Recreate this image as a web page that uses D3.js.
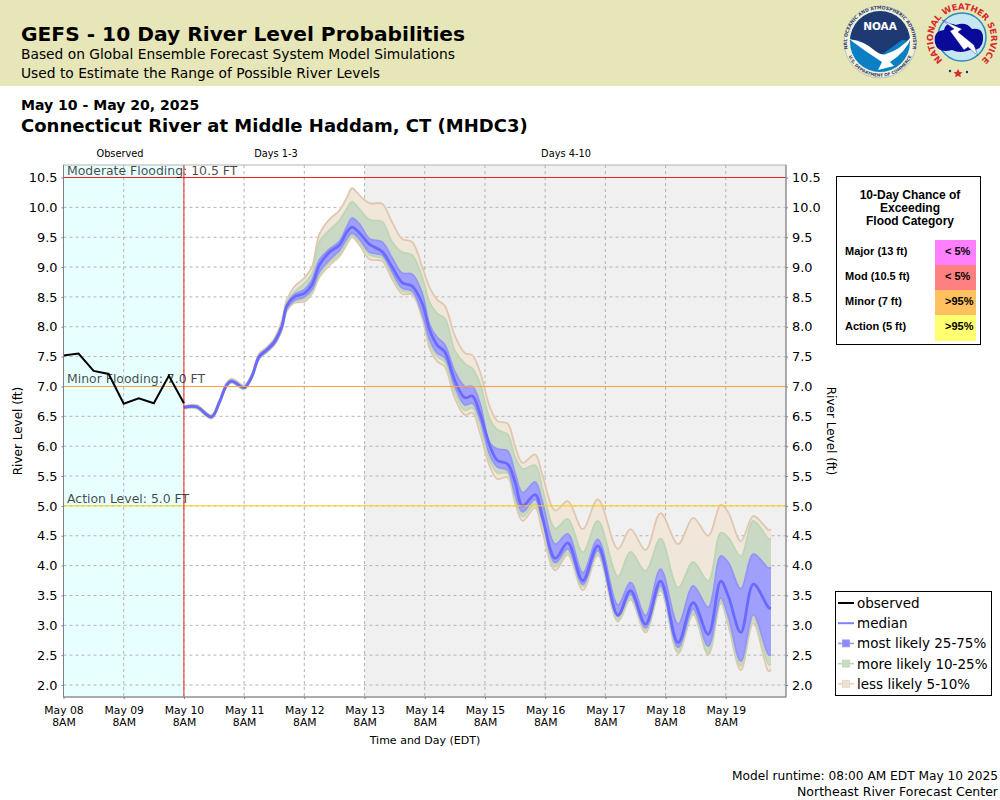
<!DOCTYPE html>
<html><head><meta charset="utf-8">
<script src="https://cdn.jsdelivr.net/npm/d3@7/dist/d3.min.js"></script>
<style>html,body{margin:0;padding:0;background:#fff}svg{display:block}text{font-family:"DejaVu Sans",sans-serif}</style>
</head><body><svg id="c" width="1000" height="800"></svg>
<script>
const dayLabels=["May 08","May 09","May 10","May 11","May 12","May 13","May 14","May 15","May 16","May 17","May 18","May 19"];
const yTicks=[2,2.5,3,3.5,4,4.5,5,5.5,6,6.5,7,7.5,8,8.5,9,9.5,10,10.5];
// hours relative to May 10 8AM
const obsHours=[-48,-42,-36,-30,-24,-18,-12,-6,0];
const observed=[7.52,7.55,7.26,7.21,6.71,6.80,6.72,7.18,6.72];
const hours=[0,5,11,14,17,19,21,24,27,30,33,36,39,41,44,48,51,54,58,62,65,67,70,74,79,83,87,91,95,98,101,104,108,112,115,118,122,125,129,132,135,140,143,148,153,159,165,173,178,184,190,197,203,209,214,217,222,227,233,234];
const p50=[6.65,6.66,6.49,6.72,7.02,7.09,7.05,6.98,7.16,7.50,7.61,7.74,8.00,8.35,8.50,8.56,8.70,9.03,9.25,9.37,9.59,9.67,9.57,9.38,9.26,9.00,8.74,8.68,8.39,7.94,7.69,7.58,7.10,6.81,6.84,6.55,6.00,5.76,5.70,5.40,5.00,5.19,4.80,4.12,4.38,3.75,4.33,3.17,3.58,3.02,3.74,2.71,3.38,2.85,3.74,3.49,2.88,3.69,3.30,3.28];
const p75=[6.66,6.67,6.50,6.73,7.03,7.10,7.06,6.99,7.17,7.52,7.63,7.77,8.03,8.37,8.54,8.62,8.78,9.12,9.30,9.43,9.68,9.82,9.72,9.47,9.42,9.15,8.90,8.88,8.56,8.03,7.82,7.70,7.25,7.00,7.00,6.72,6.05,5.95,5.92,5.55,5.22,5.40,5.05,4.36,4.53,3.88,4.44,3.34,3.72,3.16,3.94,3.02,3.66,3.30,4.16,4.05,3.61,4.19,3.96,3.97];
const p25=[6.64,6.65,6.48,6.71,7.01,7.08,7.04,6.97,7.15,7.48,7.59,7.71,7.97,8.30,8.44,8.50,8.62,8.92,9.12,9.28,9.48,9.57,9.47,9.25,9.20,8.92,8.65,8.60,8.22,7.78,7.56,7.48,7.00,6.69,6.72,6.45,5.85,5.65,5.60,5.19,4.90,5.11,4.75,4.05,4.28,3.69,4.25,3.15,3.52,2.96,3.66,2.63,3.27,2.65,3.46,3.15,2.40,3.18,2.51,2.50];
const p90=[6.66,6.68,6.51,6.74,7.04,7.11,7.07,7.00,7.18,7.53,7.64,7.77,8.04,8.40,8.58,8.73,8.88,9.42,9.62,9.78,9.98,10.09,9.97,9.79,9.76,9.42,9.25,9.20,8.83,8.40,8.22,8.14,7.60,7.38,7.30,7.05,6.45,6.27,6.20,5.82,5.62,5.68,5.28,4.62,4.78,4.22,4.75,3.82,4.23,3.91,4.45,3.63,4.06,3.74,4.55,4.47,4.15,4.75,4.45,4.45];
const p10=[6.64,6.64,6.47,6.70,7.00,7.07,7.03,6.96,7.14,7.47,7.58,7.70,7.95,8.28,8.42,8.46,8.58,8.88,9.08,9.22,9.42,9.53,9.42,9.20,9.15,8.86,8.60,8.57,8.20,7.70,7.50,7.41,6.90,6.60,6.64,6.35,5.75,5.55,5.55,5.12,4.82,5.03,4.68,3.98,4.22,3.65,4.20,3.09,3.46,2.92,3.60,2.55,3.21,2.53,3.41,3.05,2.32,3.10,2.35,2.34];
const p95=[6.67,6.69,6.52,6.76,7.06,7.13,7.09,7.02,7.20,7.55,7.66,7.80,8.10,8.45,8.67,8.82,9.00,9.55,9.80,9.95,10.17,10.32,10.20,10.07,10.06,9.75,9.47,9.42,9.00,8.65,8.45,8.35,7.85,7.56,7.52,7.25,6.65,6.42,6.38,6.00,5.72,5.86,5.50,4.92,5.08,4.61,5.11,4.28,4.61,4.26,4.88,4.36,4.80,4.50,5.02,4.89,4.41,4.83,4.60,4.61];
const p05=[6.63,6.63,6.46,6.69,6.99,7.06,7.02,6.95,7.13,7.46,7.57,7.69,7.94,8.26,8.40,8.42,8.55,8.83,9.03,9.18,9.38,9.50,9.37,9.13,9.10,8.80,8.55,8.54,8.14,7.63,7.42,7.33,6.80,6.52,6.56,6.22,5.65,5.45,5.48,5.05,4.75,4.97,4.55,3.92,4.18,3.59,4.17,3.06,3.43,2.88,3.58,2.53,3.18,2.50,3.37,3.00,2.25,3.04,2.23,2.26];
const floodCats=["Major (13 ft)","Mod (10.5 ft)","Minor (7 ft)","Action (5 ft)"];
const floodChance=["< 5%","< 5%",">95%",">95%"];
const floodColors=["#ff80ff","#ff8080","#ffc060","#ffff70"];
const stages=[{v:10.5,t:"Moderate Flooding: 10.5 FT",c:"#ee2020"},{v:7,t:"Minor Flooding: 7.0 FT",c:"#ffa040"},{v:5,t:"Action Level: 5.0 FT",c:"#ffd000"}];
const legendItems=["observed","median","most likely 25-75%","more likely 10-25%","less likely 5-10%"];

const svg=d3.select("#c");
const pL=63.5,pR=786,pT=165,pB=697;
const x=d3.scaleLinear().domain([-48,240]).range([pL,pR]);
const y=d3.scaleLinear().domain([2,10.5]).range([685,177.5]);
const T=(s,xx,yy,size,o={})=>svg.append("text").attr("x",xx).attr("y",yy).attr("font-size",size)
  .attr("font-weight",o.w||"normal").attr("fill",o.c||"#000").attr("text-anchor",o.a||"start")
  .style("font-family",o.f||null).text(s);

// header
svg.append("rect").attr("width",1000).attr("height",86).attr("fill","#e6e6b8");
T("GEFS - 10 Day River Level Probabilities",21,41,20.2,{w:"bold"});
T("Based on Global Ensemble Forecast System Model Simulations",21,59,13.8);
T("Used to Estimate the Range of Possible River Levels",21,78,13.8);
T("May 10 - May 20, 2025",21,110,14.05,{w:"bold"});
T("Connecticut River at Middle Haddam, CT (MHDC3)",21,132,18,{w:"bold"});

// NOAA logo
const noaa=svg.append("g").attr("transform","translate(880,42)");
noaa.append("circle").attr("r",36).attr("fill","#f0f0d8").attr("stroke","#8a9ab0").attr("stroke-width",.5);
noaa.append("path").attr("id","noaaRing").attr("d","M-32.5,6 A33,33 0 1 1 32.5,6").attr("fill","none");
noaa.append("text").attr("font-size",4.6).attr("fill","#33406a").attr("font-weight","bold").append("textPath").attr("href","#noaaRing").attr("startOffset","50%").attr("text-anchor","middle").text("NATIONAL OCEANIC AND ATMOSPHERIC ADMINISTRATION");
noaa.append("path").attr("id","noaaRing2").attr("d","M-34,6 A34.5,34.5 0 0 0 34,6").attr("fill","none");
noaa.append("text").attr("font-size",4.2).attr("fill","#33406a").attr("font-weight","bold").append("textPath").attr("href","#noaaRing2").attr("startOffset","50%").attr("text-anchor","middle").text("U.S. DEPARTMENT OF COMMERCE");
noaa.append("circle").attr("r",30).attr("fill","#0a7fc4");
noaa.append("path").attr("d","M-30,-1 A30,30 0 0 1 30,-1 L22,-2 Q8,8 0,14 Q-8,6 -22,-2 Z").attr("fill","#1f3a72");
noaa.append("path").attr("d","M-31,-3 Q-16,-1 -6,8 Q2,14 6,12 Q20,8 32,-6 Q26,10 10,20 L14,24 L-2,28 L2,20 Q-14,10 -31,-3Z").attr("fill","#fff");
noaa.append("text").attr("y",-12).attr("text-anchor","middle").attr("font-size",10.5).attr("font-weight","bold").attr("fill","#fff").text("NOAA");

// NWS logo
const nws=svg.append("g").attr("transform","translate(962,37)");
nws.append("circle").attr("r",24).attr("fill","#c6e6f2").attr("stroke","#2a8cc0").attr("stroke-width",1.5);
nws.append("path").attr("id","nwsRing").attr("d","M-12,28 A29,29 0 1 1 12,28").attr("fill","none");
nws.append("text").attr("font-size",8.6).attr("fill","#d82a2a").attr("font-weight","bold").append("textPath").attr("href","#nwsRing").attr("startOffset","50%").attr("text-anchor","middle").attr("textLength",140).text("NATIONAL WEATHER SERVICE");
nws.append("path").attr("d","M-27,6 Q-29,-6 -18,-7 Q-16,-16 -6,-12 Q4,-16 10,-8 Q22,-10 21,3 Q20,14 8,13 Q-2,17 -10,13 Q-24,17 -27,6Z").attr("fill","#0a0a9a");
nws.append("path").attr("d","M-20,-17 L0,-8 L-4,-5 L12,8 L16,19 L6,10 L2,13 L-12,-6 L-8,-8 Z").attr("fill","#fff").attr("stroke","#0a0a9a").attr("stroke-width",.4);
nws.append("path").attr("d","M-4,33 l1.5,3 3,.3 -2.3,2 .7,3 -2.9,-1.6 -2.9,1.6 .7,-3 -2.3,-2 3,-.3Z").attr("fill","#d82a2a").attr("transform","translate(0,-1)");
nws.append("circle").attr("cx",-12).attr("cy",34).attr("r",1.2).attr("fill","#1a2a8a");
nws.append("circle").attr("cx",5).attr("cy",35).attr("r",1.2).attr("fill","#1a2a8a");

// plot backgrounds
svg.append("rect").attr("x",x(0)).attr("y",pT).attr("width",x(72)-x(0)).attr("height",pB-pT).attr("fill","#fff");
svg.append("rect").attr("x",pL).attr("y",pT).attr("width",x(0)-pL).attr("height",pB-pT).attr("fill","#e8ffff");
svg.append("rect").attr("x",x(72)).attr("y",pT).attr("width",pR-x(72)).attr("height",pB-pT).attr("fill","#f0f0f0");

// grid
const dayHours=dayLabels.map((d,i)=>-48+24*i);
svg.append("g").selectAll("line").data(dayHours.slice(1)).join("line").attr("x1",d=>x(d)).attr("x2",d=>x(d)).attr("y1",pT).attr("y2",pB).attr("stroke","#b4b4b4").attr("stroke-dasharray","3,3");
svg.append("g").selectAll("line").data(yTicks).join("line").attr("x1",pL).attr("x2",pR).attr("y1",d=>y(d)).attr("y2",d=>y(d)).attr("stroke","#b4b4b4").attr("stroke-dasharray","3,3");

// bands
const idx=d3.range(hours.length);
const curve=d3.curveCatmullRom.alpha(0.5);
function band(lo,hi,fill,stroke){
  svg.append("path").datum(idx).attr("fill",fill)
    .attr("d",d3.area().curve(curve).x(i=>x(hours[i])).y0(i=>y(lo[i])).y1(i=>y(hi[i])));
  [lo,hi].forEach(s=>svg.append("path").datum(idx).attr("fill","none").attr("stroke",stroke).attr("stroke-width",1.8)
    .attr("d",d3.line().curve(curve).x(i=>x(hours[i])).y(i=>y(s[i]))));
}
band(p05,p95,"#f0e6da","#e0c8b0");
band(p10,p90,"#cad9c6","#bdd6b4");
band(p25,p75,"#a0a0fc","#9494fa");
svg.append("path").datum(idx).attr("fill","none").attr("stroke","#6a6aff").attr("stroke-width",2.8)
  .attr("d",d3.line().curve(curve).x(i=>x(hours[i])).y(i=>y(p50[i])));

// flood stage lines
svg.append("g").selectAll("line").data(stages).join("line").attr("x1",pL).attr("x2",pR).attr("y1",d=>y(d.v)).attr("y2",d=>y(d.v)).attr("stroke",d=>d.c).attr("stroke-width",1);
svg.append("line").attr("x1",x(0)).attr("x2",x(0)).attr("y1",pT).attr("y2",pB).attr("stroke","#f02020");

// observed
svg.append("path").datum(d3.range(obsHours.length)).attr("fill","none").attr("stroke","#000").attr("stroke-width",2)
  .attr("d",d3.line().x(i=>x(obsHours[i])).y(i=>y(observed[i])));
svg.selectAll(null).data(stages).join("text").attr("x",67).attr("y",d=>y(d.v)-3).attr("font-size",12.45).attr("fill","#000").attr("fill-opacity",.72).text(d=>d.t);

// frame
svg.append("rect").attr("x",pL).attr("y",pT).attr("width",pR-pL).attr("height",pB-pT).attr("fill","none").attr("stroke","#b4b4b4");

// axes
const axL=svg.append("g").attr("transform",`translate(${pL},0)`).call(d3.axisLeft(y).tickValues(yTicks).tickFormat(d3.format(".1f")).tickSize(2).tickPadding(4));
const axR=svg.append("g").attr("transform",`translate(${pR},0)`).call(d3.axisRight(y).tickValues(yTicks).tickFormat(d3.format(".1f")).tickSize(2).tickPadding(4));
const axB=svg.append("g").attr("transform",`translate(0,${pB})`).call(d3.axisBottom(x).tickValues(dayHours).tickFormat((d,i)=>dayLabels[i]).tickSize(2).tickPadding(7));
[axL,axR].forEach(a=>{a.selectAll("text").attr("font-size",12.9).attr("fill","#000");a.selectAll(".tick line").attr("stroke","#808080");a.select(".domain").attr("stroke","#808080").attr("d",`M0,${pT}V${pB}`);});
axB.selectAll("text").attr("font-size",10.8).attr("fill","#000");
axB.selectAll(".tick line").attr("stroke","#808080");
axB.select(".domain").attr("stroke","#808080").attr("d",`M${pL},0H${pR}`);
axB.selectAll(".tick").append("text").attr("y",29).attr("font-size",10.8).attr("fill","#000").attr("text-anchor","middle").text("8AM");

T("Observed",120,157,9.8,{a:"middle"});
T("Days 1-3",276,157,9.8,{a:"middle"});
T("Days 4-10",566,157,9.8,{a:"middle"});
svg.append("text").attr("transform","translate(22,431) rotate(-90)").attr("text-anchor","middle").attr("font-size",12).text("River Level (ft)");
svg.append("text").attr("transform","translate(827,431) rotate(90)").attr("text-anchor","middle").attr("font-size",12).text("River Level (ft)");
T("Time and Day (EDT)",425,744,11,{a:"middle"});
T("Model runtime: 08:00 AM EDT May 10 2025",998,780,12.2,{a:"end"});
T("Northeast River Forecast Center",998,796,12.5,{a:"end"});

// flood chance table
const AR='"Liberation Sans",Arial,sans-serif';
svg.append("rect").attr("x",836.5).attr("y",176.5).attr("width",144).attr("height",168).attr("fill","#fff").attr("stroke","#000").attr("stroke-width",1);
["10-Day Chance of","Exceeding","Flood Category"].forEach((s,i)=>T(s,910,199+13*i,12,{w:"bold",a:"middle",f:AR}));
floodCats.forEach((s,i)=>{
  svg.append("rect").attr("x",935).attr("y",240+25*i).attr("width",41).attr("height",i==3?26:25).attr("fill",floodColors[i]);
  T(s,845,255+25*i,11,{w:"bold",f:AR});
  T(floodChance[i],945,255+25*i,11,{w:"bold",f:AR});
});

// legend
svg.append("rect").attr("x",835.5).attr("y",591.5).attr("width",156).attr("height",104).attr("fill","#fff").attr("stroke","#000").attr("stroke-width",1);
const legStroke=["#000","#8080ff","#9a9afc","#bdd6b4","#e6d2bc"];
const legFill=[null,null,"#8a8afc","#c8dcc0","#f0e2d2"];
legendItems.forEach((s,i)=>{
  const yy=603+20.2*i;
  svg.append("line").attr("x1",838).attr("x2",854).attr("y1",yy).attr("y2",yy).attr("stroke",legStroke[i]).attr("stroke-width",i<2?2:1.6);
  if(legFill[i]) svg.append("rect").attr("x",842.5).attr("y",yy-3.5).attr("width",7).attr("height",7).attr("fill",legFill[i]).attr("stroke",legStroke[i]).attr("stroke-width",.8);
  T(s,857,yy+5,13.5);
});
</script></body></html>
